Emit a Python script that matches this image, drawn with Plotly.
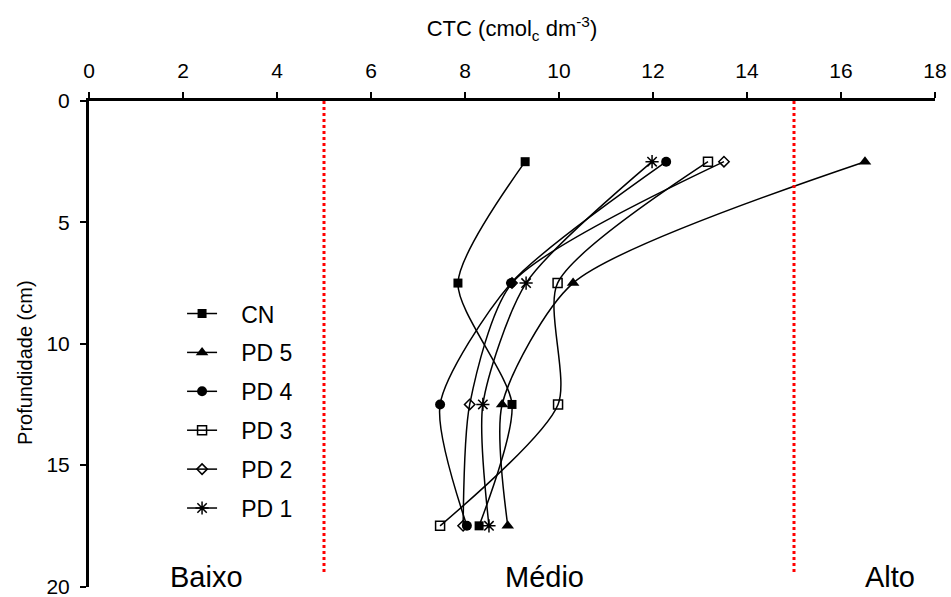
import plotly.graph_objects as go

# Soil depth (cm) at the midpoint of each sampled layer
depth = [2.5, 7.5, 12.5, 17.5]

# Cation exchange capacity (cmolc dm-3) for each management system
cn = [9.28, 7.85, 9.00, 8.30]
pd5 = [16.51, 10.30, 8.79, 8.91]
pd4 = [12.28, 8.98, 7.47, 8.04]
pd3 = [13.17, 9.97, 9.98, 7.47]
pd2 = [13.51, 9.00, 8.10, 7.96]
pd1 = [11.98, 9.30, 8.38, 8.51]

x_ticks = list(range(0, 19, 2))
y_ticks = [0, 5, 10, 15, 20]
class_limits = [5, 15]
class_labels = ["Baixo", "Médio", "Alto"]
class_label_x = [2.5, 9.7, 17.05]

FONT = "Arial, 'Liberation Sans', sans-serif"
PAD = "\u00a0\u00a0\u00a0"

series = [
    ("CN", cn, dict(symbol="square", size=9, color="black"), 1),
    ("PD 5", pd5, dict(symbol="triangle-up", size=11, color="black"), 2),
    ("PD 2", pd2, dict(symbol="diamond-open", size=8, color="black",
                       line=dict(width=1.5, color="black")), 5),
    ("PD 4", pd4, dict(symbol="circle", size=10, color="black"), 3),
    ("PD 3", pd3, dict(symbol="square-open", size=9, color="black",
                       line=dict(width=1.5, color="black")), 4),
    ("PD 1", pd1, dict(symbol="asterisk-open", size=11, color="black",
                       line=dict(width=1.5, color="black")), 6),
]

fig = go.Figure()
for name, values, marker, rank in series:
    fig.add_trace(go.Scatter(
        x=values, y=depth, name=PAD + name, mode="lines+markers",
        line=dict(color="black", width=1.5, shape="spline", smoothing=0.7),
        marker=marker, legendgroup=name, legendrank=rank,
    ))

# Interpretation class limits
for xv in class_limits:
    fig.add_shape(type="line", x0=xv, x1=xv, y0=0, y1=19.4,
                  xref="x", yref="y",
                  line=dict(color="red", width=3, dash="dot"))

for label, xv in zip(class_labels, class_label_x):
    fig.add_annotation(x=xv, y=19.6, text=label, showarrow=False,
                       xref="x", yref="y",
                       font=dict(size=29, color="black", family=FONT))

# Depth axis title
fig.add_annotation(x=-0.0757, y=0.463, xref="paper", yref="paper",
                   text="Profundidade (cm)", textangle=-90, showarrow=False,
                   xanchor="center", yanchor="middle",
                   font=dict(size=20, color="black", family=FONT))

fig.update_layout(
    width=951, height=597,
    margin=dict(l=89, r=16, t=101, b=10, autoexpand=False),
    paper_bgcolor="white", plot_bgcolor="white",
    font=dict(family=FONT, color="black", size=20),
    legend=dict(x=0.11, y=0.362, xanchor="left", yanchor="middle",
                bgcolor="rgba(0,0,0,0)", tracegroupgap=6,
                font=dict(size=23, family=FONT)),
)

fig.update_xaxes(
    side="top", range=[0, 18], tickvals=x_ticks, automargin=False,
    showline=True, linecolor="black", linewidth=3,
    ticks="outside", ticklen=6, tickwidth=2, tickcolor="black",
    ticklabelstandoff=6, ticklabeloverflow="allow",
    showgrid=False, zeroline=False,
    tickfont=dict(size=21),
    title=dict(text="CTC (cmol<sub>c</sub> dm<sup>-3</sup>)",
               font=dict(size=22), standoff=16),
)
fig.update_yaxes(
    range=[20.02, 0], tickvals=y_ticks, automargin=False,
    showline=True, linecolor="black", linewidth=3,
    ticks="outside", ticklen=6, tickwidth=2, tickcolor="black",
    ticklabelstandoff=6, ticklabeloverflow="allow",
    showgrid=False, zeroline=False,
    tickfont=dict(size=21),
)

fig.write_html("out.html")
